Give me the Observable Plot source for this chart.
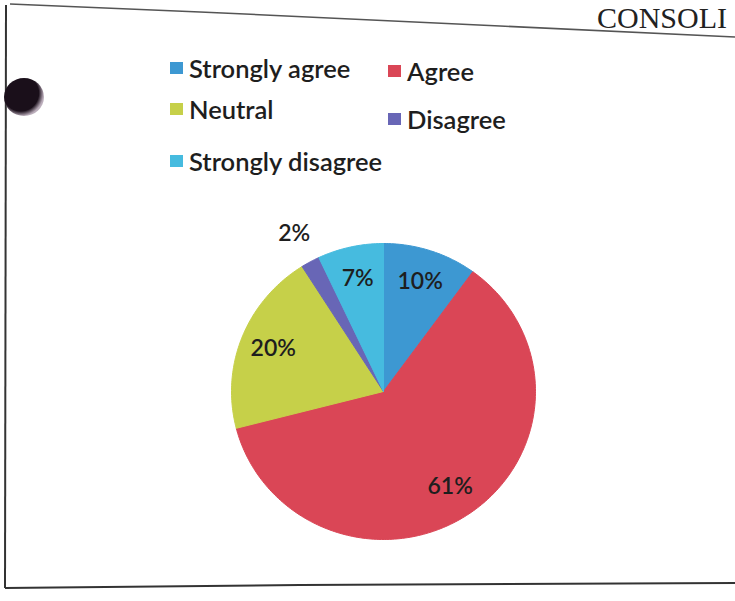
<!DOCTYPE html>
<html>
<head>
<meta charset="utf-8">
<script src="https://cdn.jsdelivr.net/npm/d3@7"></script>
<script src="https://cdn.jsdelivr.net/npm/@observablehq/plot@0.6"></script>
<style>
  html, body { margin: 0; padding: 0; background: #fff; }
  #page { position: relative; width: 735px; height: 601px; overflow: hidden; background: #fff; }
  #frame { position: absolute; left: 0; top: 0; }
  #heading { position: absolute; left: 597px; top: 1px; font-family: "Liberation Serif", "DejaVu Serif", serif; font-size: 30px; color: #222; white-space: nowrap; }
  #hole { position: absolute; left: 4px; top: 78px; width: 40px; height: 38px; border-radius: 50%;
          background: radial-gradient(circle at 42% 40%, #1a0f1a 0%, #1a0f1a 55%, #b8aab8 70%, #eee 100%); }
  .lg { position: absolute; font-family: Lato, "Open Sans", sans-serif; font-size: 25.5px; line-height: 30px; height: 30px; font-weight: 600; color: #1e1e1e; white-space: nowrap; display: flex; align-items: center; }
  .lg span.sw { display: inline-block; width: 13px; height: 12px; margin-right: 6px; }
  #chart { position: absolute; left: 0; top: 0; }
</style>
</head>
<body>
<div id="page">
  <svg id="frame" width="735" height="601">
    <path d="M10,4 L200,12 L500,26 L735,37" fill="none" stroke="#555" stroke-width="1.5"/>
    <path d="M6,5 L5,588" fill="none" stroke="#333" stroke-width="2"/>
    <path d="M5,588 L300,585 L735,583" fill="none" stroke="#333" stroke-width="2"/>
  </svg>
  <div id="heading">CONSOLI</div>
  <div id="hole"></div>
  <div id="legend"></div>
  <div id="chart"></div>
</div>
<script>
// Data
const categories = ["Strongly agree", "Agree", "Neutral", "Disagree", "Strongly disagree"];
const values = [10, 61, 20, 2, 7];
const colors = ["#3d98d2", "#da4656", "#c6d049", "#6866b6", "#46bbdf"];

// Build slices (angles clockwise from 12 o'clock)
const total = d3.sum(values);
let acc = 0;
const slices = categories.map((c, i) => {
  const a0 = acc / total * 2 * Math.PI;
  acc += values[i];
  const a1 = acc / total * 2 * Math.PI;
  return {category: c, value: values[i], a0, a1};
});

// polygon points along each arc, in unit coordinates
const pts = [];
for (const s of slices) {
  pts.push({category: s.category, x: 0, y: 0});
  const n = Math.max(2, Math.ceil((s.a1 - s.a0) / (Math.PI / 180)));
  for (let k = 0; k <= n; k++) {
    const a = s.a0 + (s.a1 - s.a0) * k / n;
    pts.push({category: s.category, x: Math.sin(a), y: Math.cos(a)});
  }
  pts.push({category: s.category, x: 0, y: 0});
}

const labels = slices.map(s => {
  const m = (s.a0 + s.a1) / 2;
  const r = s.value < 5 ? 1.22 : 0.78;
  return {text: s.value + "%", x: r * Math.sin(m), y: r * Math.cos(m)};
});

const chart = Plot.plot({
  width: 735,
  height: 601,
  margin: 0,
  style: {background: "transparent", overflow: "visible"},
  x: {domain: [-1, 1], range: [231, 535], axis: null},
  y: {domain: [-1, 1], range: [539, 243], axis: null},
  color: {domain: categories, range: colors},
  marks: [
    Plot.line(pts, {x: "x", y: "y", z: "category", fill: "category", stroke: "category", strokeWidth: 1, curve: "linear"}),
    Plot.text(labels, {x: "x", y: "y", text: "text", fontSize: 23, fontWeight: 600, fill: "#1e1e1e", fontFamily: "Lato, 'Open Sans', sans-serif"})
  ]
});
document.getElementById("chart").appendChild(chart);

// Legend (HTML), colours from the same scale
const legendPos = [
  {left: 170, top: 53}, {left: 388, top: 56},
  {left: 170, top: 94}, {left: 388, top: 104},
  {left: 170, top: 146}
];
const legend = document.getElementById("legend");
categories.forEach((c, i) => {
  const d = document.createElement("div");
  d.className = "lg";
  d.style.left = legendPos[i].left + "px";
  d.style.top = legendPos[i].top + "px";
  const sw = document.createElement("span");
  sw.className = "sw";
  sw.style.background = chart.scale("color").apply(c);
  d.appendChild(sw);
  d.appendChild(document.createTextNode(c));
  legend.appendChild(d);
});
</script>
</body>
</html>
